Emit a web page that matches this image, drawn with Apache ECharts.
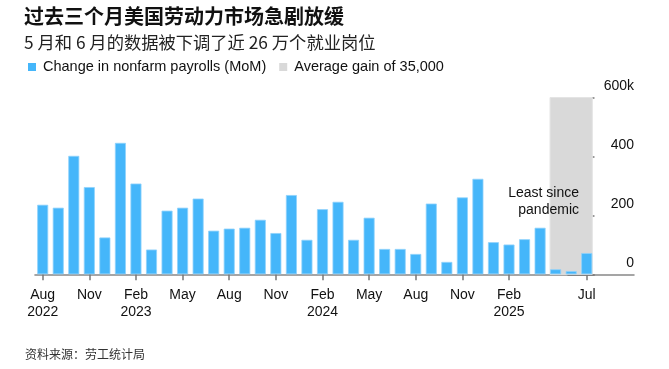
<!DOCTYPE html>
<html>
<head>
<meta charset="utf-8">
<script src="https://cdn.jsdelivr.net/npm/echarts@6/dist/echarts.min.js"></script>
<style>
html,body{margin:0;padding:0;background:#fff;}
#c{width:669px;height:369px;}
</style>
</head>
<body>
<div id="c"></div>
<script>
// ---- data ----
const categories = ['Aug 2022','Sep 2022','Oct 2022','Nov 2022','Dec 2022','Jan 2023','Feb 2023','Mar 2023','Apr 2023','May 2023','Jun 2023','Jul 2023','Aug 2023','Sep 2023','Oct 2023','Nov 2023','Dec 2023','Jan 2024','Feb 2024','Mar 2024','Apr 2024','May 2024','Jun 2024','Jul 2024','Aug 2024','Sep 2024','Oct 2024','Nov 2024','Dec 2024','Jan 2025','Feb 2025','Mar 2025','Apr 2025','May 2025','Jun 2025','Jul 2025'];
const payrolls = [236,226,402,296,125,446,308,84,216,226,257,148,155,158,185,140,269,117,221,246,117,192,86,86,69,240,42,261,324,109,101,119,158,17,11,72];
const tickLabels = ['Aug\n2022','','','Nov','','','Feb\n2023','','','May','','','Aug','','','Nov','','','Feb\n2024','','','May','','','Aug','','','Nov','','','Feb\n2025','','','','','Jul'];
const bandRange = ['May 2025','Jul 2025'];
const yTicks = {min:0, max:600, interval:200};
const seriesNames = ['Change in nonfarm payrolls (MoM)','Average gain of 35,000'];
const titleText = '过去三个月美国劳动力市场急剧放缓';
const subtitleText = '5 月和 6 月的数据被下调了近 26 万个就业岗位';
const sourceText = '资料来源：劳工统计局';
const noteLines = ['Least since','pandemic'];

const BLUE = '#45b6fa';
const GRAY = '#d9d9d9';
const LATIN = '"Liberation Sans", Arial, Helvetica, sans-serif';
const CJK = '"Noto Sans CJK SC", "Noto Sans", sans-serif';

const chart = echarts.init(document.getElementById('c'), null, {renderer:'canvas'});
const showIdx = (i) => tickLabels[i] !== '';
const bandData = [[categories.indexOf(bandRange[0]), categories.indexOf(bandRange[1]), yTicks.max]];

chart.setOption({
  animation:false,
  backgroundColor:'#fff',
  textStyle:{fontFamily:LATIN},
  title:[
    {text:titleText, left:24, top:4, padding:0, textStyle:{fontFamily:CJK, fontSize:20, fontWeight:'bold', color:'#111', lineHeight:24}},
    {text:subtitleText, left:24, top:31, padding:0, textStyle:{fontFamily:CJK, fontSize:17.3, fontWeight:'normal', color:'#222', lineHeight:22}},
    {text:sourceText, left:25, top:346, padding:0, textStyle:{fontFamily:CJK, fontSize:12, fontWeight:'normal', color:'#333', lineHeight:16}}
  ],
  graphic:[
    {type:'text', x:579, y:186.5, z:10, silent:true,
     style:{text:noteLines[0], align:'right', textAlign:'right', verticalAlign:'top', fill:'#111', font:'14px "Liberation Sans", Arial, sans-serif'}},
    {type:'text', x:579, y:203, z:10, silent:true,
     style:{text:noteLines[1], align:'right', textAlign:'right', verticalAlign:'top', fill:'#111', font:'14px "Liberation Sans", Arial, sans-serif'}}
  ],
  legend:{
    left:28, top:59, padding:0, itemGap:13, itemWidth:8, itemHeight:8, icon:'rect',
    itemStyle:{borderWidth:0},
    textStyle:{fontFamily:LATIN, fontSize:14.5, color:'#111', lineHeight:16, padding:[0,0,0,2]},
    data:seriesNames
  },
  grid:[
    {left:34.93, right:74.5, top:97.5, bottom:94.7},
    {left:594.47, right:35, top:97.5, bottom:94.7}
  ],
  xAxis:[
    {gridIndex:0, type:'category', data:categories, boundaryGap:true,
     axisLine:{show:true, lineStyle:{color:'#888', width:1.5}},
     axisTick:{show:true, alignWithLabel:true, length:6, interval:(i)=>showIdx(i), lineStyle:{color:'#777', width:1.5}},
     axisLabel:{interval:(i)=>showIdx(i), formatter:(v,i)=>tickLabels[categories.indexOf(v)], margin:12, fontSize:14, color:'#111', lineHeight:17, fontFamily:LATIN},
     splitLine:{show:false}},
    {gridIndex:1, type:'value', min:0, max:1,
     axisLine:{show:true, lineStyle:{color:'#888', width:1.5}},
     axisTick:{show:false}, axisLabel:{show:false}, splitLine:{show:false}}
  ],
  yAxis:[
    {gridIndex:0, type:'value', min:yTicks.min, max:yTicks.max, interval:yTicks.interval, show:false, splitLine:{show:false}},
    {gridIndex:1, type:'value', position:'right', min:yTicks.min, max:yTicks.max, interval:yTicks.interval,
     axisLine:{show:false},
     axisTick:{show:true, inside:true, length:27, lineStyle:{color:'#777', width:1.5}},
     axisLabel:{inside:true, margin:0, fontSize:14, color:'#111', fontFamily:LATIN, verticalAlign:'bottom', padding:[0,0,4,0],
       formatter:(v)=> v===yTicks.max ? v+'k' : String(v)},
     splitLine:{show:false}}
  ],
  series:[
    {name:seriesNames[1], type:'custom', xAxisIndex:0, yAxisIndex:0, data:bandData, z:1, silent:true,
     itemStyle:{color:GRAY},
     encode:{x:[0,1], y:2},
     renderItem:(params, api) => {
       const top = api.coord([api.value(0), api.value(2)]);
       const bot = api.coord([api.value(1), 0]);
       const half = api.size([1,0])[0] * 0.36;
       return {type:'rect', shape:{x:top[0]-half, y:top[1], width:bot[0]-top[0]+2*half, height:bot[1]-top[1]},
               style:{fill:GRAY, stroke:'#e4e4e4', lineWidth:1}};
     }},
    {name:seriesNames[0], type:'bar', xAxisIndex:0, yAxisIndex:0, data:payrolls, barWidth:11, z:3,
     itemStyle:{color:BLUE, borderColor:'#8fd2fb', borderWidth:0.8}}
  ]
});
</script>
</body>
</html>
